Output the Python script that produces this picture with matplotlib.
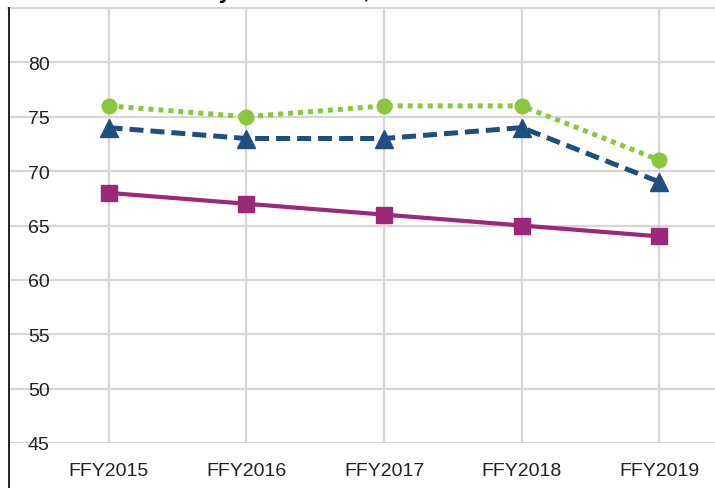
import matplotlib.pyplot as plt
from matplotlib.lines import Line2D

plt.rcParams['font.family'] = ['Liberation Sans', 'DejaVu Sans']

# Data
years = ['FFY2015', 'FFY2016', 'FFY2017', 'FFY2018', 'FFY2019']
series_green = [76, 75, 76, 76, 71]
series_blue = [74, 73, 73, 74, 69]
series_purple = [68, 67, 66, 65, 64]
y_ticks = [45, 50, 55, 60, 65, 70, 75, 80]

green = '#8cc63f'
blue = '#1d5081'
purple = '#9b2878'
grid_col = '#d6d6d6'

fig = plt.figure(figsize=(7.15, 4.89), dpi=100)
ax = fig.add_axes([8 / 715, 1 - 444 / 489, 1 - 8 / 715, (444 - 9) / 489])

x = list(range(len(years)))

ax.plot(x, series_purple, color=purple, lw=3.0, marker='s', ms=11.5,
        solid_capstyle='butt', zorder=3)
ax.plot(x, series_blue, color=blue, lw=3.6, marker='^', ms=12.5,
        dashes=(2.8, 1.4), zorder=4)
ax.plot(x, series_green, color=green, lw=3.6, marker='o', ms=10.5,
        dashes=(1, 1), zorder=5)

ax.set_xlim(-0.73, 4.403)
ax.set_ylim(45, 85)
ax.set_xticks(x)
ax.set_xticklabels(years)
ax.set_yticks(y_ticks)

ax.grid(True, color=grid_col, lw=1.6)
ax.set_axisbelow(True)

ax.tick_params(axis='x', length=0, pad=14, labelsize=14, colors='#222222')
ax.tick_params(axis='y', length=0, pad=-30, labelsize=14, colors='#222222')

for s in ['right', 'bottom', 'left']:
    ax.spines[s].set_visible(False)
ax.spines['top'].set_color(grid_col)
ax.spines['top'].set_linewidth(1.6)

# left border runs the full height of the panel
fig.add_artist(Line2D([8.5 / 715, 8.5 / 715], [0, 1 - 9 / 489],
                      transform=fig.transFigure, color='#222222', lw=1.4))

# title, mostly cropped off at the top as in the source image
fig.text(0.5, 1 - 3 / 489, 'Summary Statement 1, National Data Trend', ha='center',
         va='bottom', fontsize=16, fontweight='bold')

fig.savefig('out.png', dpi=100)
